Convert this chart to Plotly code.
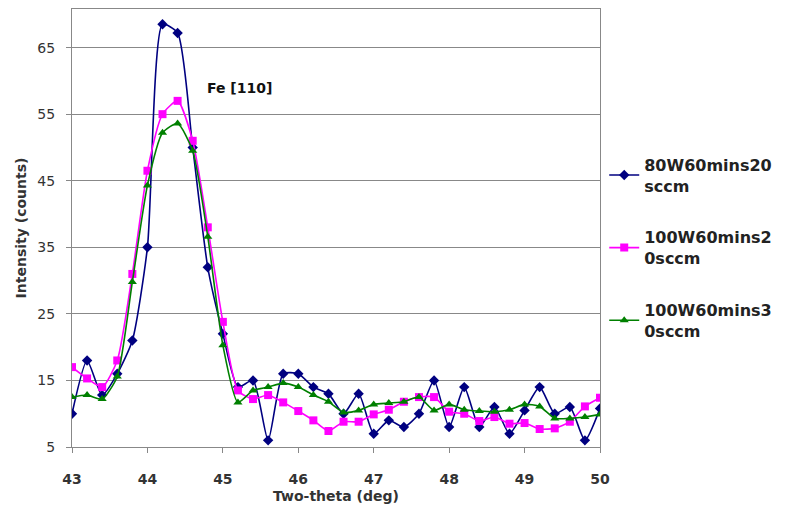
import plotly.graph_objects as go

two_theta = [round(43 + 0.2 * i, 1) for i in range(36)]

s80w_20 = [10, 18, 12.8, 16, 21, 35, 68.5, 67.2, 50, 32, 22, 14, 15, 6, 16, 16, 14, 13,
           10, 13, 7, 9, 8, 10, 15, 8, 14, 8, 11, 7, 10.5, 14, 10, 11, 6, 10.8]
s100w_20 = [17, 15.3, 14, 18, 31, 46.5, 55, 57, 51, 38, 23.8, 13.5, 12.2, 12.8, 11.7, 10.4, 9, 7.4,
            8.8, 8.8, 9.9, 10.6, 11.8, 12.5, 12.5, 10.3, 10, 8.9, 9.5, 8.5, 8.6, 7.7, 7.8, 8.8, 11.1, 12.4]
s100w_30 = [12.5, 12.8, 12.2, 15.6, 29.8, 44.3, 52.2, 53.6, 49.5, 36.6, 20.3, 11.7, 13.5, 14, 14.6, 14, 12.8, 11.8,
            10.2, 10.5, 11.4, 11.6, 11.8, 12.5, 10.5, 11.4, 10.6, 10.4, 10.3, 10.6, 11.4, 11.1, 9.3, 9.3, 9.5, 9.9]

names = ["<b>80W60mins20<br>sccm</b>", "<b>100W60mins2<br>0sccm</b>", "<b>100W60mins3<br>0sccm</b>"]
colors = ["#000080", "#FF00FF", "#008000"]
symbols = ["diamond", "square", "triangle-up"]

FONT = "DejaVu Sans"

fig = go.Figure()
for i, (ys, nm, c, sym) in enumerate(zip([s80w_20, s100w_20, s100w_30], names, colors, symbols)):
    fig.add_trace(go.Scatter(
        x=two_theta, y=ys, name=nm, mode="lines+markers",
        line=dict(color=c, width=1.6, shape="spline", smoothing=0.6),
        marker=dict(color=c, symbol=sym, size=8),
        legendgroup=str(i),
    ))

fig.add_annotation(x=45.22, y=59, text="<b>Fe [110]</b>", showarrow=False,
                   xanchor="center", yanchor="middle",
                   font=dict(family=FONT, size=14, color="#111"))

tfont = dict(family=FONT, size=14, color="#333")
fig.update_layout(
    width=781, height=506,
    margin=dict(l=64, r=189, t=1, b=67),
    paper_bgcolor="white", plot_bgcolor="white",
    font=dict(family=FONT, color="#222"),
    showlegend=True,
    legend=dict(x=1.008, xanchor="left", y=0.455, yanchor="middle",
                font=dict(family=FONT, size=16, color="#222"),
                tracegroupgap=28, itemwidth=30, bgcolor="rgba(0,0,0,0)"),
    xaxis=dict(range=[43, 50], dtick=1, tick0=43, showgrid=False,
               showline=True, linecolor="#888", linewidth=1, mirror=True,
               ticks="outside", ticklen=5, tickcolor="#888",
               tickfont=tfont, automargin=False, ticklabelstandoff=14,
               tickprefix="<b>", ticksuffix="</b>",
               title=dict(text="<b>Two-theta (deg)</b>", font=dict(family=FONT, size=14, color="#333"), standoff=5),
               zeroline=False),
    yaxis=dict(range=[5, 70.8], tickvals=[5, 15, 25, 35, 45, 55, 65], showgrid=True,
               gridcolor="#888", gridwidth=1,
               showline=True, linecolor="#888", linewidth=1, mirror=True,
               ticks="outside", ticklen=5, tickcolor="#888",
               tickfont=tfont, automargin=False, ticklabelstandoff=8,
               tickprefix="<b>", ticksuffix="</b>",
               title=dict(text="<b>Intensity (counts)</b>", font=dict(family=FONT, size=14, color="#333"), standoff=7),
               zeroline=False),
)

fig.write_html("out.html")
